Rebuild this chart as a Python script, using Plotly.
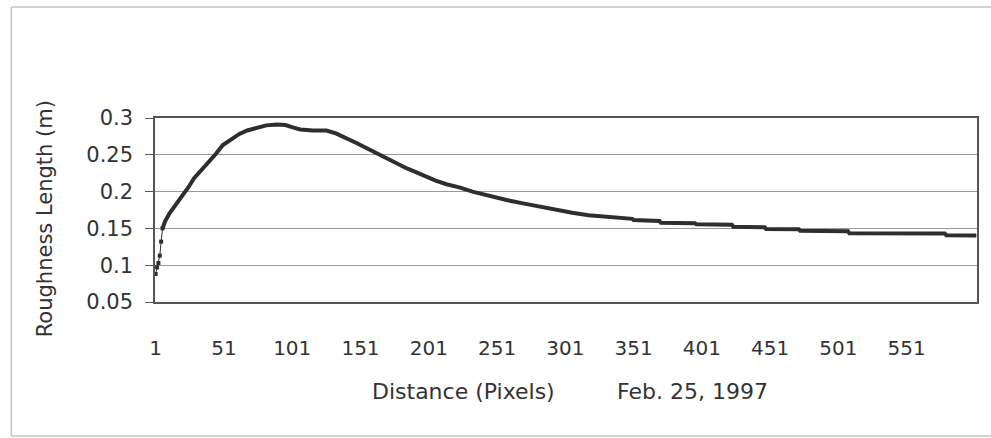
import plotly.graph_objects as go

# Data (category index -> roughness length, m)
x_idx = [1, 2, 3, 4, 5, 6, 8, 11, 15, 20, 25, 29, 34, 40, 45, 50, 56, 62, 68, 75,
         82, 90, 96, 102, 107, 116, 126, 133, 141, 148, 156, 163, 170, 177, 185,
         192, 199, 206, 214, 224, 233, 245, 258, 270, 282, 294, 306, 318, 331,
         350, 351, 370, 371, 396, 397, 423, 424, 447, 448, 472, 473, 508, 509,
         579, 580, 602]
roughness = [0.088, 0.097, 0.103, 0.113, 0.132, 0.150, 0.160, 0.170, 0.180, 0.193,
             0.206, 0.218, 0.228, 0.240, 0.251, 0.263, 0.271, 0.278, 0.283, 0.287,
             0.290, 0.291, 0.2905, 0.287, 0.2845, 0.283, 0.283, 0.279, 0.2725, 0.266,
             0.2585, 0.252, 0.245, 0.238, 0.2315, 0.226, 0.220, 0.215, 0.210, 0.2055,
             0.200, 0.194, 0.1885, 0.184, 0.1795, 0.1755, 0.1713, 0.168, 0.166,
             0.163, 0.1614, 0.160, 0.1577, 0.157, 0.1556, 0.155, 0.1523, 0.1515, 0.1492,
             0.1488, 0.1469, 0.1462, 0.1433, 0.143, 0.1406, 0.1404]

x_tick_vals = [1, 51, 101, 151, 201, 251, 301, 351, 401, 451, 501, 551]
x_tick_text = ["1", "51", "101", "151", "201", "251", "301", "351", "401", "451", "501", "551"]
y_tick_vals = [0.05, 0.1, 0.15, 0.2, 0.25, 0.3]
y_tick_text = ["0.05", "0.1", "0.15", "0.2", "0.25", "0.3"]

FONT = "DejaVu Sans"
TXT = "#333333"
n_early = 6

fig = go.Figure()
# early scattered points (small squares, thin connecting line)
fig.add_trace(go.Scatter(
    x=x_idx[:n_early], y=roughness[:n_early], mode="lines+markers",
    line=dict(color="#2e2e2e", width=1),
    marker=dict(symbol="square", size=4, color="#2e2e2e"),
    showlegend=False, hoverinfo="skip"))
# dense part of the series (markers merge into a thick band)
fig.add_trace(go.Scatter(
    x=x_idx[n_early - 1:], y=roughness[n_early - 1:], mode="lines",
    line=dict(color="#2e2e2e", width=4),
    showlegend=False, hoverinfo="skip"))

frame = dict(color="#c4c4c4", width=1.5)
fx0, fx1, fy0, fy1 = -0.1748, 1.08, -0.728, 1.603

fig.update_layout(
    width=991, height=438,
    margin=dict(l=155, r=12, t=118, b=136),
    paper_bgcolor="white", plot_bgcolor="white",
    font=dict(family=FONT, color=TXT),
    xaxis=dict(
        range=[0.5, 602.5], tickmode="array", tickvals=x_tick_vals, ticktext=x_tick_text,
        showgrid=False, zeroline=False, showline=True, mirror=True,
        linecolor="#555555", linewidth=1.5, ticks="",
        ticklabelstandoff=27, tickfont=dict(family=FONT, size=20, color=TXT)),
    yaxis=dict(
        range=[0.05, 0.3], tickmode="array", tickvals=y_tick_vals, ticktext=y_tick_text,
        showgrid=True, gridcolor="#9a9a9a", gridwidth=1, zeroline=False,
        showline=True, mirror=True, linecolor="#555555", linewidth=1.5,
        ticks="outside", ticklen=8, tickcolor="#555555", tickwidth=1,
        ticklabelstandoff=8, tickfont=dict(family=FONT, size=21, color=TXT)),
    shapes=[
        dict(type="line", xref="paper", yref="paper", x0=fx0, x1=fx1, y0=fy1, y1=fy1, line=frame, layer="below"),
        dict(type="line", xref="paper", yref="paper", x0=fx0, x1=fx1, y0=fy0, y1=fy0, line=frame, layer="below"),
        dict(type="line", xref="paper", yref="paper", x0=fx0, x1=fx0, y0=fy0, y1=fy1, line=frame, layer="below"),
    ],
    annotations=[
        dict(text="Roughness Length (m)", xref="paper", yref="paper",
             x=-0.1335, y=0.451, textangle=-90, showarrow=False,
             xanchor="center", yanchor="middle",
             font=dict(family=FONT, size=21, color=TXT)),
        dict(text="Distance (Pixels)", xref="paper", yref="paper",
             x=0.375, y=-0.489, showarrow=False, xanchor="center", yanchor="middle",
             font=dict(family=FONT, size=22, color=TXT)),
        dict(text="Feb. 25, 1997", xref="paper", yref="paper",
             x=0.654, y=-0.489, showarrow=False, xanchor="center", yanchor="middle",
             font=dict(family=FONT, size=22, color=TXT)),
    ],
)

fig.write_html("out.html")
